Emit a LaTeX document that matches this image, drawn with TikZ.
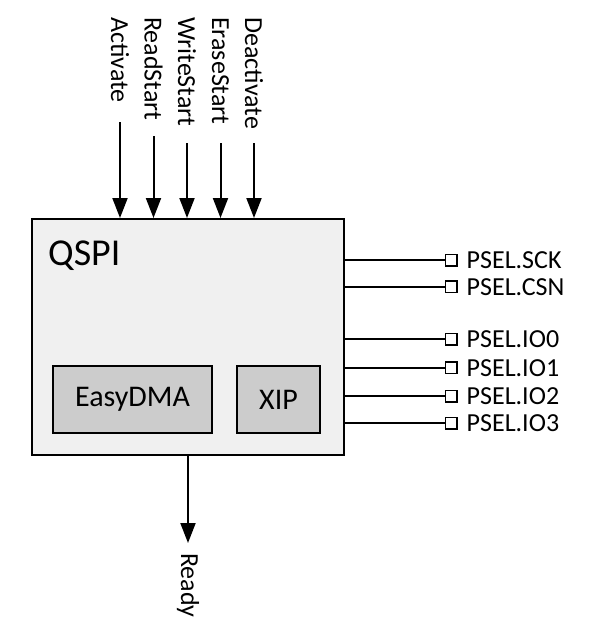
\documentclass[tikz,border=0pt]{standalone}
\usepackage{fontspec}
\setmainfont{Carlito}
\usetikzlibrary{arrows.meta,positioning,calc}
\definecolor{qsedge}{RGB}{0,0,0}
\definecolor{qsbody}{RGB}{240,240,240}
\definecolor{qssub}{RGB}{204,204,204}
\tikzset{
  blk/.style={
    draw=qsedge, line width=2pt, fill=qsbody, inner sep=0pt
  },
  sub/.style={
    draw=qsedge, line width=2pt, fill=qssub, inner sep=0pt,
    minimum height=67pt, font=\fontsize{30}{36}\selectfont
  },
  task/.style={rotate=-90, anchor=west, inner sep=0pt, font=\fontsize{26}{30}\selectfont},
  pin/.style={draw=qsedge, line width=1.5pt, fill=white, minimum size=11.5pt, inner sep=0pt},
  pinlbl/.style={inner sep=0pt, font=\fontsize{26}{30}\selectfont},
  arr/.style={-{Triangle[length=20pt,width=15pt]}, draw=qsedge, line width=2pt},
  wire/.style={draw=qsedge, line width=2pt},
  every picture/.append style={line join=miter}
}
\begin{document}
\begin{tikzpicture}[x=1pt, y=-1pt]
  \useasboundingbox (0,0) rectangle (599,629);
  \node[blk, minimum width=312pt, minimum height=236pt] (qspi) at (187.5,337) {};
  \node[anchor=base west, inner sep=0pt, font=\fontsize{38}{44}\selectfont] (title) at (48,265) {QSPI};
  \node[sub, minimum width=159pt] (dma) at (132.5,399.5) {EasyDMA};
  \node[sub, minimum width=83pt] (xip) at (278.5,399.5) {XIP};
  \foreach \nm/\txt/\x/\y in {act/Activate/120/122, rds/ReadStart/153.5/136,
      wrs/WriteStart/187/143, ers/EraseStart/220.5/143, dea/Deactivate/254/143} {
    \node[task] (\nm) at (\x,17) {\txt};
    \coordinate (\nm-in) at (\x,\y);
    \draw[arr] (\nm-in) -- (\nm-in |- qspi.north);
  }
  \foreach \nm/\txt/\y in {sck/SCK/260, csn/CSN/286.7, io0/IO0/339.3,
      io1/IO1/367.7, io2/IO2/396, io3/IO3/423.3} {
    \node[pin] (\nm) at (451,\y) {};
    \draw[wire] (qspi.east |- \nm) -- (\nm.west);
    \node[pinlbl, right=9pt of \nm] (\nm-lbl) {PSEL.\txt};
  }
  \coordinate (rdy-out) at (188,543);
  \draw[arr] (qspi.south -| rdy-out) -- (rdy-out);
  \node[task] (rdy) at (188,553) {Ready};
\end{tikzpicture}
\end{document}
